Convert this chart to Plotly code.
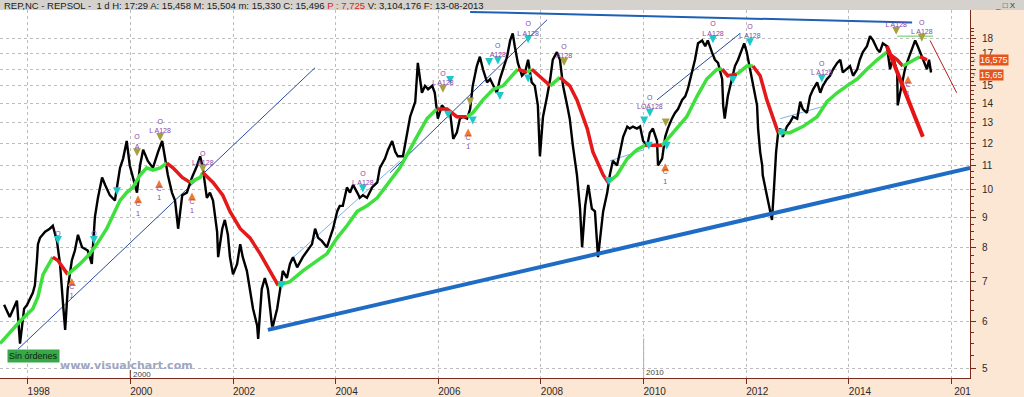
import math
import pandas as pd
import plotly.graph_objects as go

# ---------------- data (decimal years, prices in EUR) ----------------
price_t = [1997.54, 1997.65, 1997.79, 1997.85, 1997.93, 1997.99, 1998.10, 1998.14, 1998.18, 1998.20,
           1998.24, 1998.34, 1998.43, 1998.49, 1998.57, 1998.63, 1998.69, 1998.73, 1998.78, 1998.86,
           1998.92, 1998.98, 1999.06, 1999.17, 1999.25, 1999.31, 1999.37, 1999.45, 1999.51, 1999.60,
           1999.70, 1999.80, 1999.86, 1999.93, 1999.99, 2000.05, 2000.13, 2000.19, 2000.25, 2000.34,
           2000.44, 2000.54, 2000.62, 2000.67, 2000.73, 2000.81, 2000.87, 2000.93, 2001.01, 2001.10,
           2001.20, 2001.30, 2001.36, 2001.41, 2001.49, 2001.55, 2001.61, 2001.69, 2001.71, 2001.79,
           2001.84, 2001.90, 2001.94, 2002.00, 2002.08, 2002.14, 2002.19, 2002.27, 2002.33, 2002.39,
           2002.47, 2002.49, 2002.56, 2002.62, 2002.68, 2002.76, 2002.78, 2002.86, 2002.92, 2002.97,
           2003.05, 2003.11, 2003.17, 2003.25, 2003.36, 2003.46, 2003.54, 2003.60, 2003.66, 2003.73,
           2003.83, 2003.89, 2003.95, 2004.03, 2004.08, 2004.14, 2004.22, 2004.28, 2004.34, 2004.42,
           2004.47, 2004.53, 2004.61, 2004.71, 2004.81, 2004.86, 2004.96, 2005.02, 2005.10, 2005.16,
           2005.21, 2005.31, 2005.39, 2005.45, 2005.55, 2005.60, 2005.68, 2005.74, 2005.80, 2005.88,
           2005.93, 2005.99, 2006.07, 2006.13, 2006.23, 2006.29, 2006.36, 2006.42, 2006.48, 2006.56,
           2006.62, 2006.67, 2006.75, 2006.81, 2006.87, 2006.95, 2007.01, 2007.07, 2007.14, 2007.20,
           2007.26, 2007.34, 2007.40, 2007.45, 2007.49, 2007.55, 2007.63, 2007.69, 2007.75, 2007.82,
           2007.88, 2007.94, 2007.98, 2008.04, 2008.12, 2008.18, 2008.23, 2008.31, 2008.37, 2008.43,
           2008.51, 2008.56, 2008.62, 2008.70, 2008.76, 2008.80, 2008.86, 2008.92, 2008.99, 2009.05,
           2009.11, 2009.17, 2009.21, 2009.29, 2009.34, 2009.40, 2009.48, 2009.54, 2009.60, 2009.68,
           2009.73, 2009.79, 2009.87, 2009.93, 2009.99, 2010.07, 2010.12, 2010.18, 2010.26, 2010.28,
           2010.36, 2010.42, 2010.47, 2010.55, 2010.61, 2010.67, 2010.75, 2010.81, 2010.86, 2010.94,
           2011.00, 2011.06, 2011.14, 2011.20, 2011.25, 2011.33, 2011.39, 2011.45, 2011.53, 2011.55,
           2011.58, 2011.64, 2011.72, 2011.78, 2011.84, 2011.92, 2011.96, 2012.01, 2012.07, 2012.13,
           2012.21, 2012.23, 2012.27, 2012.31, 2012.32, 2012.40, 2012.46, 2012.50, 2012.54, 2012.58,
           2012.62, 2012.66, 2012.71, 2012.79, 2012.85, 2012.91, 2012.99, 2013.05, 2013.10, 2013.18,
           2013.24, 2013.30, 2013.38, 2013.44, 2013.49, 2013.57, 2013.63, 2013.69, 2013.77, 2013.83,
           2013.88, 2013.96, 2014.02, 2014.08, 2014.16, 2014.21, 2014.27, 2014.35, 2014.41, 2014.47,
           2014.55, 2014.60, 2014.66, 2014.74, 2014.80, 2014.86, 2014.94, 2014.95, 2015.03, 2015.09,
           2015.15, 2015.23, 2015.29, 2015.34, 2015.42, 2015.48, 2015.52, 2015.56, 2015.60]
price_v = [6.4, 6.1, 6.5, 5.5, 6.3, 6.4, 6.7, 6.9, 7.6, 8.1,
           8.3, 8.5, 8.6, 8.7, 8.2, 7.5, 6.4, 5.8, 6.8, 7.6,
           7.9, 8.4, 8.0, 7.9, 7.5, 9.0, 9.7, 10.5, 10.2, 9.8,
           9.6, 10.9, 11.3, 12.1, 11.0, 10.5, 9.9, 11.0, 11.7, 11.2,
           10.9, 11.6, 12.1, 11.4, 10.6, 9.9, 9.6, 8.6, 9.8, 9.9,
           10.5, 11.0, 11.4, 10.9, 9.7, 9.9, 9.6, 8.5, 7.7, 8.6,
           8.9, 8.4, 7.7, 7.2, 7.5, 8.1, 7.7, 7.3, 6.8, 6.3,
           5.9, 5.6, 6.8, 7.1, 6.8, 5.9, 5.9, 6.3, 6.8, 7.3,
           7.1, 7.5, 7.7, 7.4, 7.7, 7.9, 8.1, 8.6, 8.3, 8.2,
           8.0, 8.3, 8.6, 9.2, 9.4, 9.4, 10.1, 9.9, 10.2, 9.9,
           9.7, 9.8, 9.7, 10.1, 10.3, 10.9, 11.3, 11.7, 12.1, 11.6,
           11.4, 11.4, 12.5, 13.3, 14.1, 16.4, 14.6, 15.0, 14.8, 15.0,
           14.6, 13.2, 13.9, 13.7, 13.5, 12.2, 12.5, 13.2, 13.3, 13.2,
           13.7, 15.0, 16.2, 16.8, 16.0, 15.2, 15.4, 15.0, 14.6, 15.4,
           16.0, 16.8, 17.9, 18.4, 17.5, 16.4, 15.6, 15.8, 16.6, 15.2,
           15.0, 13.9, 11.4, 13.3, 14.4, 15.4, 16.6, 17.1, 16.6, 15.0,
           13.9, 13.2, 11.9, 10.6, 9.3, 8.0, 9.4, 10.2, 9.3, 9.2,
           7.7, 8.5, 9.2, 9.9, 10.6, 11.2, 11.0, 11.6, 12.3, 12.8,
           12.7, 12.8, 12.7, 12.8, 12.1, 11.9, 12.5, 12.7, 12.1, 11.0,
           11.3, 12.3, 12.7, 13.2, 13.5, 13.7, 14.2, 14.4, 14.8, 15.8,
           16.6, 17.7, 17.9, 17.5, 17.9, 17.1, 16.6, 16.4, 15.4, 13.9,
           13.2, 14.4, 15.4, 16.2, 16.6, 17.3, 17.7, 17.1, 16.0, 15.0,
           13.9, 12.7, 11.6, 11.0, 10.6, 9.8, 9.2, 8.9, 10.1, 11.6,
           12.5, 12.7, 12.3, 12.8, 13.0, 13.3, 13.2, 14.1, 13.7, 13.5,
           14.4, 14.8, 15.2, 14.6, 15.0, 15.4, 15.6, 16.0, 16.4, 16.6,
           15.8, 16.0, 16.2, 15.6, 16.0, 16.6, 17.1, 17.5, 18.2, 17.9,
           17.3, 17.1, 17.7, 17.5, 16.0, 16.8, 15.8, 13.9, 15.0, 16.0,
           16.6, 17.3, 17.9, 17.5, 16.8, 16.4, 16.0, 16.6, 15.8]

# moving average (green = rising, red = falling)
ma_t = [1997.46, 1997.85, 1998.10, 1998.20, 1998.30, 1998.49, 1998.59, 1998.78, 1999.02, 1999.21,
        1999.35, 1999.54, 1999.70, 1999.80, 1999.93, 2000.05, 2000.19, 2000.32, 2000.44, 2000.58,
        2000.71, 2000.83, 2001.01, 2001.16, 2001.36, 2001.41, 2001.61, 2001.80, 2001.94, 2002.14,
        2002.33, 2002.53, 2002.72, 2002.88, 2003.11, 2003.36, 2003.64, 2003.83, 2004.03, 2004.22,
        2004.42, 2004.61, 2004.81, 2005.00, 2005.25, 2005.58, 2005.78, 2005.97, 2006.17, 2006.36,
        2006.56, 2006.67, 2006.87, 2007.07, 2007.26, 2007.45, 2007.55, 2007.73, 2007.82, 2008.04,
        2008.18, 2008.37, 2008.56, 2008.70, 2008.90, 2009.01, 2009.09, 2009.21, 2009.31, 2009.48,
        2009.68, 2009.87, 2010.03, 2010.16, 2010.36, 2010.57, 2010.84, 2011.04, 2011.23, 2011.43,
        2011.53, 2011.64, 2011.82, 2012.01, 2012.13, 2012.27, 2012.40, 2012.52, 2012.62, 2012.85,
        2013.10, 2013.38, 2013.57, 2013.77, 2013.96, 2014.16, 2014.35, 2014.55, 2014.74, 2014.94,
        2015.05, 2015.25, 2015.38, 2015.52]
ma_v = [5.5, 6.0, 6.3, 6.6, 7.2, 7.7, 7.6, 7.2, 7.5, 7.8,
        8.1, 8.6, 9.2, 9.6, 9.9, 10.1, 10.6, 10.9, 10.8, 10.9,
        11.1, 10.9, 10.5, 10.3, 10.5, 10.7, 10.3, 9.8, 9.2, 8.6,
        8.3, 7.8, 7.3, 6.9, 7.0, 7.3, 7.6, 7.8, 8.3, 8.7,
        9.2, 9.4, 9.7, 10.2, 10.9, 12.3, 13.2, 13.7, 13.7, 13.3,
        13.3, 13.5, 14.2, 14.8, 15.0, 15.6, 16.0, 15.8, 16.0, 15.4,
        15.0, 15.5, 15.0, 14.2, 12.7, 11.6, 11.2, 10.6, 10.3, 10.6,
        11.3, 11.7, 11.9, 11.9, 11.9, 12.5, 13.3, 14.4, 15.4, 16.0,
        16.0, 15.6, 15.7, 16.2, 16.2, 15.6, 14.2, 13.2, 12.5, 12.5,
        12.8, 13.3, 14.1, 14.6, 15.0, 15.4, 16.0, 16.6, 17.1, 16.6,
        16.2, 16.6, 16.8, 16.6]
ma_trend = list("uuuuu" "dd" "uuuuuuuuuuuuu" "ddd" "uu" "dddddddd" "uuuuuuuuuuuuuu" "ddd"
                "uuuuuu" "d" "u" "dd" "u" "ddddddd" "uuuu" "dd" "uuuuuu" "dd" "uu" "dddd"
                "uuuuuuuuuu" "dd" "uu" "dd")

# drawn trendlines: (t0, p0, t1, p1)
support_line = (2002.68, 5.8, 2016.36, 10.9)
resistance_line = (2006.62, 20.0, 2015.23, 19.2)
thin_dark_lines = [(1997.81, 5.38, 2003.60, 16.1),
                   (2005.06, 10.7, 2008.12, 19.4),
                   (2010.26, 14.2, 2011.88, 18.4)]
thin_light_lines = [(2003.11, 7.6, 2005.25, 11.2),
                    (2009.34, 11.2, 2010.01, 11.7),
                    (2012.66, 13.2, 2013.57, 13.9)]
red_thick_line = (2014.74, 17.5, 2015.44, 12.3)
red_thin_line = (2015.58, 17.9, 2016.10, 14.6)
green_thin_line = (2014.94, 18.2, 2015.64, 18.2)

# system signals
cyan_t = [1998.59, 1999.29, 1999.74, 2002.95, 2004.53, 2006.23, 2006.19, 2006.67, 2006.99, 2007.16,
          2007.20, 2007.75, 2007.75, 2009.32, 2010.01, 2010.12, 2010.10, 2010.45, 2011.35, 2011.74,
          2012.07, 2012.69, 2013.47]
cyan_v = [8.1, 8.1, 9.8, 6.8, 9.9, 15.1, 13.2, 12.9, 16.2, 16.3,
          14.2, 17.7, 15.2, 10.2, 12.9, 13.3, 11.7, 11.7, 17.7, 15.1,
          17.5, 12.3, 15.2]
cyan_txt = ["O", "O", "", "", "O<br>L A128", "", "", "", "", "O<br>A128",
            "", "O<br>L A128", "", "", "", "O<br>LOA128", "", "", "O<br>L A128", "",
            "O<br>L A128", "", "O<br>L A128"]
olive_t = [2000.13, 2000.58, 2001.41, 2006.09, 2006.62, 2008.45, 2010.43, 2014.92, 2015.42]
olive_v = [11.4, 12.1, 10.7, 14.6, 13.9, 16.2, 12.8, 18.3, 17.8]
olive_txt = ["O<br>A", "O<br>L A128", "O<br>L A128", "O<br>L A128", "", "O<br>A128", "",
             "L A128", "O<br>L A128"]
orange_t = [1998.86, 2000.15, 2000.56, 2001.20, 2006.58, 2010.42, 2015.15]
orange_v = [7.1, 9.8, 10.4, 9.9, 12.7, 11.1, 15.6]

year_ticks = [1998, 2000, 2002, 2004, 2006, 2008, 2010, 2012, 2014, 2016]
year_labels = ["1998", "2000", "2002", "2004", "2006", "2008", "2010", "2012", "2014", "201"]
price_ticks = [5, 6, 7, 8, 9, 10, 11, 12, 13, 14, 15, 16, 17, 18]
price_tick_text = ["5", "6", "7", "8", "9", "10", "11", "12", "13", "14", "15", "", "17", "18"]
last_prices = [16.575, 15.65]
last_labels = ["16,575", "15,65"]


def to_date(t):
    y = int(t)
    a = pd.Timestamp(year=y, month=1, day=1)
    b = pd.Timestamp(year=y + 1, month=1, day=1)
    return a + (b - a) * (t - y)


fig = go.Figure()


def seg(line, color, width, dash=None):
    t0, p0, t1, p1 = line
    fig.add_trace(go.Scatter(x=[to_date(t0), to_date(t1)], y=[p0, p1], mode="lines",
                             line=dict(color=color, width=width, dash=dash),
                             hoverinfo="skip"))


for ln in thin_dark_lines:
    seg(ln, "#2a4c9c", 1)
for ln in thin_light_lines:
    seg(ln, "#7fb2e6", 1)

# price
fig.add_trace(go.Scatter(x=[to_date(t) for t in price_t], y=price_v, mode="lines",
                         line=dict(color="#000000", width=2.4), hoverinfo="skip"))

# moving average coloured by slope
ma_dates = [to_date(t) for t in ma_t]
i = 0
n = len(ma_v)
while i < n - 1:
    d = ma_trend[i]
    j = i
    while j < n - 1 and ma_trend[j] == d:
        j += 1
    fig.add_trace(go.Scatter(x=ma_dates[i:j + 1], y=ma_v[i:j + 1], mode="lines",
                             line=dict(color="#3ee03e" if d == "u" else "#e41a1a", width=3.5),
                             hoverinfo="skip"))
    i = j

seg(support_line, "#1f6cc4", 4)
seg(resistance_line, "#1f5fb4", 2)
seg(red_thick_line, "#e61414", 4)
seg(red_thin_line, "#b02020", 1)
seg(green_thin_line, "#5cc85c", 1)

sig_font = dict(size=7, color="#8a44a8", family="Liberation Sans")
fig.add_trace(go.Scatter(x=[to_date(t) for t in cyan_t], y=cyan_v, mode="markers+text",
                         marker=dict(symbol="arrow-down", size=8, color="#1cc8c8"),
                         text=cyan_txt, textposition="top center", textfont=sig_font,
                         hoverinfo="skip"))
fig.add_trace(go.Scatter(x=[to_date(t) for t in olive_t], y=olive_v, mode="markers+text",
                         marker=dict(symbol="arrow-down", size=8, color="#a8a040"),
                         text=olive_txt, textposition="top center", textfont=sig_font,
                         hoverinfo="skip"))
fig.add_trace(go.Scatter(x=[to_date(t) for t in orange_t], y=orange_v, mode="markers+text",
                         marker=dict(symbol="arrow-up", size=8, color="#f07830"),
                         text=["C<br>1"] * len(orange_t), textposition="bottom center",
                         textfont=sig_font, hoverinfo="skip"))

axis_col = "#7a2a1a"
tick_font = dict(family="Liberation Sans Narrow, Liberation Sans, Arial", size=10, color="#2a2a2a")

fig.update_layout(
    width=1024, height=397,
    margin=dict(l=0, r=54, t=10, b=16),
    paper_bgcolor="#fce6d4", plot_bgcolor="#ffffff",
    showlegend=False, hovermode=False,
)
fig.update_xaxes(
    type="date", range=[to_date(1997.46), to_date(2016.358)],
    tickvals=[to_date(y) for y in year_ticks], ticktext=year_labels,
    ticks="outside", ticklen=5, tickcolor=axis_col,
    showline=True, linecolor=axis_col, linewidth=1,
    showgrid=True, gridcolor="#bdbdbd", griddash="dot", gridwidth=1,
    zeroline=False, tickfont=tick_font, ticklabelshift=11, ticklabelstandoff=-1,
)
fig.update_yaxes(
    type="log", side="right", range=[math.log10(4.81), math.log10(20.15)],
    tickvals=price_ticks, ticktext=price_tick_text,
    ticks="outside", ticklen=5, tickcolor=axis_col,
    showline=True, linecolor=axis_col, linewidth=1,
    showgrid=True, gridcolor="#bdbdbd", griddash="dot", gridwidth=1,
    zeroline=False, tickfont=tick_font, ticklabelstandoff=4,
    minor=dict(tickmode="array",
               tickvals=[5 + 0.25 * k for k in range(57) if (5 + 0.25 * k) % 1 != 0],
               ticklen=3, tickcolor=axis_col, showgrid=False),
)

# header band
fig.add_shape(type="rect", xref="paper", yref="paper", x0=0, x1=1024 / 970,
              y0=1, y1=1 + 10 / 371, fillcolor="#d5d2cd", line=dict(width=0), layer="above")

annotations = [
    dict(xref="paper", yref="paper", x=2 / 970, y=1 + 5 / 371, xanchor="left", yanchor="middle",
         showarrow=False,
         text="REP,NC - REPSOL -  1 d H: 17:29 A: 15,458 M: 15,504 m: 15,330 C: 15,496 "
              "<span style='color:#e02020'>P : 7,725</span> V: 3,104,176 F: 13-08-2013",
         font=dict(family="Liberation Sans, Arial", size=9.5, color="#1a1a1a")),
    dict(xref="paper", yref="paper", x=1005 / 970, y=1 + 5 / 371, xanchor="center", yanchor="middle",
         showarrow=False, text="_ □ X",
         font=dict(family="Liberation Sans", size=8, color="#333333")),
    dict(xref="paper", yref="paper", x=7 / 970, y=(381 - 358.5) / 371, xanchor="left", yanchor="middle",
         showarrow=False, text="Sin órdenes", bgcolor="#38a848", borderpad=1,
         font=dict(family="Liberation Sans", size=9, color="#0d240d")),
    dict(xref="paper", yref="paper", x=58 / 970, y=(381 - 368) / 371, xanchor="left", yanchor="middle",
         showarrow=False, text="<b>www.visualchart.com</b>",
         font=dict(family="DejaVu Sans", size=11, color="#a0a6bf")),
    dict(xref="x", yref="paper", x=to_date(2000.01), y=0, xanchor="left", yanchor="bottom", yshift=-3,
         showarrow=False, text="2000",
         font=dict(family="Liberation Sans Narrow, Liberation Sans", size=8, color="#444")),
    dict(xref="x", yref="paper", x=to_date(2010.01), y=0, xanchor="left", yanchor="bottom", yshift=-1,
         showarrow=False, text="2010",
         font=dict(family="Liberation Sans Narrow, Liberation Sans", size=8, color="#444")),
]
for v, lab in zip(last_prices, last_labels):
    annotations.append(dict(xref="paper", yref="y", x=979 / 970, y=math.log10(v), xanchor="left",
                            yanchor="middle", showarrow=False, text=lab, bgcolor="#e4541c",
                            borderpad=0, font=dict(family="Liberation Sans", size=9, color="#ffffff")))
    annotations.append(dict(xref="paper", yref="y", x=972 / 970, y=math.log10(v), xanchor="left",
                            yanchor="middle", showarrow=False, text="‹", borderpad=0,
                            font=dict(family="Liberation Sans", size=7, color="#555555")))
fig.update_layout(annotations=annotations)

fig.add_shape(type="line", xref="x", yref="paper", x0=to_date(2000), x1=to_date(2000), y0=0, y1=8 / 371,
              line=dict(color="#7a2a1a", width=1))
fig.add_shape(type="line", xref="x", yref="paper", x0=to_date(2010), x1=to_date(2010), y0=0, y1=40 / 371,
              line=dict(color="#b0b0b0", width=1))

fig.write_html("out.html")
